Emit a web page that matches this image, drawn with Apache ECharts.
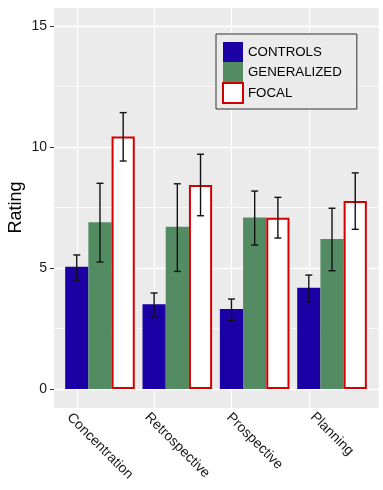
<!DOCTYPE html>
<html>
<head>
<meta charset="utf-8">
<script src="https://cdn.jsdelivr.net/npm/echarts@6/dist/echarts.min.js"></script>
<style>
  html, body { margin: 0; padding: 0; background: #ffffff; }
  #chart { width: 383px; height: 490px; }
</style>
</head>
<body>
<div id="chart"></div>
<script>
const FONT = '"Liberation Sans", Arial, sans-serif';

const categories = ['Concentration', 'Retrospective', 'Prospective', 'Planning'];
const groups = ['CONTROLS', 'GENERALIZED', 'FOCAL'];

const controls = [5.05, 3.5, 3.31, 4.19];
const controlsLow = [4.5, 2.98, 2.84, 3.61];
const controlsHigh = [5.54, 3.97, 3.72, 4.71];

const generalized = [6.89, 6.71, 7.09, 6.2];
const generalizedLow = [5.25, 4.86, 5.95, 4.89];
const generalizedHigh = [8.5, 8.48, 8.18, 7.47];

const focal = [10.43, 8.43, 7.08, 7.77];
const focalLow = [9.42, 7.16, 6.24, 6.6];
const focalHigh = [11.42, 9.7, 7.92, 8.93];

const yTicks = [0, 5, 10, 15];

// error bar rows: [category index, low, high, group index]
const errRows = [];
[[controlsLow, controlsHigh], [generalizedLow, generalizedHigh], [focalLow, focalHigh]].forEach((pair, g) => {
  categories.forEach((c, i) => errRows.push([i, pair[0][i], pair[1][i], g]));
});

// padding so the rotated label's box is centred on the tick horizontally, top aligned
const ctx = document.createElement('canvas').getContext('2d');
ctx.font = '14px ' + FONT;
const rich = {};
categories.forEach((c, i) => {
  const p = Math.round((ctx.measureText(c).width + 14) / 2);
  rich['p' + i] = { padding: [p, 0, 0, p], fontSize: 14, fontFamily: FONT, color: '#1a1a1a' };
});

function renderErr(params, api) {
  const idx = api.value(0);
  const g = api.value(3);
  const bw = api.size([1, 0])[0] * 0.9 / 3;
  const x = api.coord([idx, 0])[0] + (g - 1) * bw;
  const yLo = api.coord([idx, api.value(1)])[1];
  const yHi = api.coord([idx, api.value(2)])[1];
  const cap = 3.5;
  const style = { stroke: '#111', lineWidth: 1.4 };
  return {
    type: 'group',
    children: [
      { type: 'line', shape: { x1: x, y1: yLo, x2: x, y2: yHi }, style: style },
      { type: 'line', shape: { x1: x - cap, y1: yHi, x2: x + cap, y2: yHi }, style: style },
      { type: 'line', shape: { x1: x - cap, y1: yLo, x2: x + cap, y2: yLo }, style: style }
    ]
  };
}

const chart = echarts.init(document.getElementById('chart'), null, { renderer: 'canvas' });

const option = {
  backgroundColor: '#ffffff',
  animation: false,
  textStyle: { fontFamily: FONT },
  legend: {
    data: groups,
    orient: 'vertical',
    left: 216,
    top: 34,
    itemWidth: 20,
    itemHeight: 20,
    itemGap: 0,
    icon: 'rect',
    padding: [8, 15, 5, 6],
    borderColor: '#333',
    borderWidth: 1,
    backgroundColor: '#ebebeb',
    selectedMode: false,
    textStyle: { fontSize: 13.3, color: '#000', fontFamily: FONT }
  },
  grid: [
    // panel background
    { left: 54, right: 4.3, top: 8, bottom: 82, show: true, backgroundColor: '#ebebeb', borderWidth: 0, outerBoundsMode: 'none' },
    // y scale 0..15
    { left: 54, right: 4.3, top: 26, bottom: 101, outerBoundsMode: 'none' },
    // bars
    { left: 61.3, right: 12.3, top: 8, bottom: 82, outerBoundsMode: 'none' }
  ],
  xAxis: [
    { gridIndex: 0, type: 'value', show: false, min: 0, max: 1 },
    { gridIndex: 1, type: 'value', show: false, min: 0, max: 1 },
    {
      gridIndex: 2,
      type: 'category',
      data: categories,
      axisLine: { show: false },
      axisTick: { show: false },
      splitLine: { show: false },
      axisLabel: {
        interval: 0,
        rotate: -45,
        align: 'center',
        verticalAlign: 'middle',
        margin: 2,
        hideOverlap: false,
        formatter: (v, i) => '{p' + i + '|' + v + '}',
        rich: rich
      }
    }
  ],
  yAxis: [
    { gridIndex: 0, type: 'value', show: false, min: 0, max: 1 },
    {
      gridIndex: 1,
      type: 'value',
      min: yTicks[0],
      max: yTicks[yTicks.length - 1],
      interval: 5,
      name: 'Rating',
      nameLocation: 'middle',
      nameGap: 28.5,
      nameMoveOverlap: false,
      nameTextStyle: { fontSize: 18, color: '#000', fontFamily: FONT },
      axisLine: { show: false },
      axisTick: { show: true, length: 4, lineStyle: { color: '#333', width: 1 } },
      axisLabel: { margin: 7, fontSize: 14, color: '#1a1a1a', fontFamily: FONT },
      splitLine: { show: true, lineStyle: { color: '#ffffff', width: 1.3 } },
      minorTick: { show: false, splitNumber: 2 },
      minorSplitLine: { show: true, lineStyle: { color: '#ffffff', width: 0.7 } }
    },
    { gridIndex: 2, type: 'value', show: false, min: -0.78, max: 15.74 }
  ],
  series: [
    {
      name: groups[0], type: 'bar', xAxisIndex: 2, yAxisIndex: 2,
      data: controls, barGap: '0%', barCategoryGap: '10%', z: 2,
      itemStyle: { color: '#1b00a6' },
      markLine: {
        silent: true, symbol: 'none', z: 1, animation: false,
        label: { show: false },
        lineStyle: { color: '#ffffff', width: 1.3, type: 'solid' },
        data: categories.map(c => ({ xAxis: c }))
      }
    },
    {
      name: groups[1], type: 'bar', xAxisIndex: 2, yAxisIndex: 2,
      data: generalized, barGap: '0%', barCategoryGap: '10%', z: 2,
      itemStyle: { color: '#538b62' }
    },
    {
      name: groups[2], type: 'bar', xAxisIndex: 2, yAxisIndex: 2,
      data: focal, barGap: '0%', barCategoryGap: '10%', z: 2,
      itemStyle: { color: '#ffffff', borderColor: '#d40000', borderWidth: 2 }
    },
    {
      type: 'custom', xAxisIndex: 2, yAxisIndex: 2, z: 4,
      renderItem: renderErr,
      encode: { x: 0, y: [1, 2] },
      data: errRows
    }
  ]
};

chart.setOption(option);
</script>
</body>
</html>
